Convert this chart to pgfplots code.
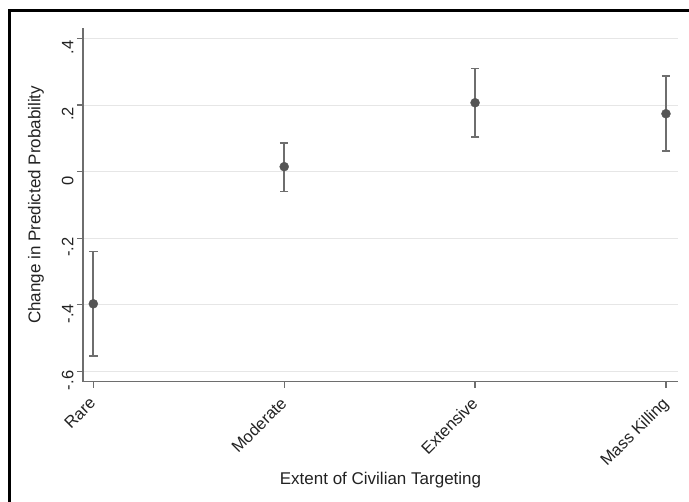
\documentclass[border=0pt]{standalone}
\usepackage{fontspec}
\setmainfont{Liberation Sans}
\usepackage{pgfplots}
\pgfplotsset{compat=1.18}
\definecolor{axgray}{HTML}{6E6E6E}
\definecolor{gridgray}{HTML}{E6E6E6}
\definecolor{ptgray}{HTML}{555555}
\definecolor{txt}{HTML}{222222}
\begin{document}
\begin{tikzpicture}
\path[use as bounding box] (0pt,0pt) rectangle (689pt,-502pt);
\draw[black, line width=3pt] (9pt,-503pt) -- (9pt,-11pt) -- (690pt,-11pt);
\begin{axis}[
  at={(83pt,-381.7pt)}, anchor=south west,
  scale only axis, width=595pt, height=353.7pt,
  xmin=-0.054, xmax=3.063, ymin=-0.631, ymax=0.4315,
  axis x line*=bottom, axis y line*=left,
  axis line style={axgray, line width=1.4pt, -},
  xtick={0,1,2,3},
  xticklabels={Rare,Moderate,Extensive,Mass Killing},
  ytick={-0.6,-0.4,-0.2,0,0.2,0.4},
  yticklabels={-.6,-.4,-.2,0,.2,.4},
  tick align=outside, major tick length=6pt,
  tick style={axgray, line width=1.2pt},
  ymajorgrids, grid style={gridgray, line width=1pt},
  ticklabel style={font=\fontsize{16.5}{19}\selectfont, text=txt},
  yticklabel style={rotate=90, anchor=south, xshift=-9pt},
  xticklabel style={rotate=45, anchor=north east, yshift=1pt, xshift=-6pt},
  every axis y label/.style={at={(rel axis cs:0,0.5)}, xshift=-47pt, rotate=90, anchor=center, font=\fontsize{17}{20}\selectfont, text=txt},
  every axis x label/.style={at={(rel axis cs:0.5,0)}, yshift=-98pt, anchor=center, font=\fontsize{17}{20}\selectfont, text=txt},
  xlabel={Extent of Civilian Targeting},
  ylabel={Change in Predicted Probability},
  clip=false,
]
\addplot[only marks, mark=*, mark size=4.5pt, color=ptgray,
  mark options={fill=ptgray, draw=ptgray},
  error bars/.cd, y dir=both, y explicit,
  error bar style={axgray, line width=1.7pt},
  error mark options={rotate=90, mark size=4.2pt, line width=1.7pt, axgray}]
  table[x=x, y=y, y error plus=ep, y error minus=em] {
  x y ep em
  0 -0.397 0.157 0.156
  1 0.015 0.072 0.075
  2 0.207 0.103 0.103
  3 0.174 0.113 0.112
};
\end{axis}
\end{tikzpicture}
\end{document}
